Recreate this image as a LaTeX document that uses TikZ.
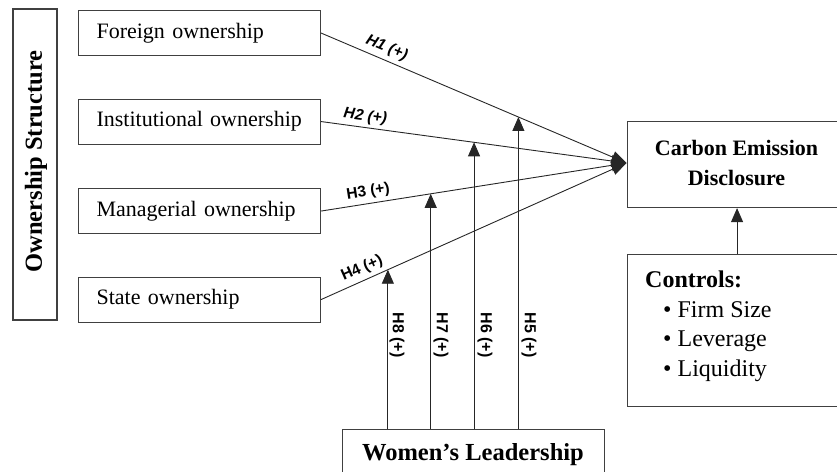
\documentclass[tikz,border=0pt]{standalone}
\usepackage{fontspec}
\setmainfont{Liberation Serif}
\newfontfamily\arialf{Liberation Sans}
\usetikzlibrary{arrows.meta,calc}
\tikzset{
  ownbox/.style={draw=black!75, line width=1.1pt, minimum height=45pt, text width=206pt, inner xsep=18pt, inner ysep=0pt, align=left, anchor=north west, font=\fontsize{22}{26}\selectfont},
  bigbox/.style={draw=black!75, line width=1.1pt, inner sep=0pt, anchor=north west},
  conn/.style={draw=black!85, line width=0.9pt, -{Triangle[length=15pt,width=12pt]}},
  varrow/.style={draw=black!85, line width=0.9pt, -{Triangle[length=14pt,width=12pt]}},
  hlab/.style={font=\arialf\bfseries\fontsize{15.5}{17}\selectfont, inner sep=1pt},
  hlabi/.style={font=\arialf\bfseries\itshape\fontsize{15.5}{17}\selectfont, inner sep=1pt},
  vlab/.style={font=\arialf\bfseries\fontsize{16}{18}\selectfont, inner sep=1pt, rotate=-90},
  ctxt/.style={font=\bfseries\fontsize{22}{29}\selectfont, inner sep=0pt},
  btxt/.style={font=\bfseries\fontsize{24}{29}\selectfont, inner sep=0pt},
  ntxt/.style={font=\fontsize{24}{29}\selectfont, inner sep=0pt}
}
\begin{document}
\begin{tikzpicture}[x=1pt,y=-1pt]
\useasboundingbox (0,0) rectangle (837,471);
\clip (0,0) rectangle (837,471);
% left vertical box
\node[draw=black!75, line width=1.1pt, rotate=90, minimum width=311pt, minimum height=44pt, inner sep=0pt] (os) at (35,164.5) {};
\node[rotate=90, inner sep=0pt, font=\bfseries\fontsize{24.5}{28}\selectfont] (ost) at (36,161.5) {Ownership Structure};
% ownership boxes
\node[ownbox] (fo) at (78,10) {Foreign ownership};
\node[ownbox] (io) at (78,98.5) {Institutional ownership};
\node[ownbox] (mo) at (78,188) {Managerial ownership};
\node[ownbox] (so) at (78,276.5) {State ownership};
% carbon box
\node[bigbox, minimum width=219pt, minimum height=86pt] (ced) at (627,121) {};
\node[ctxt, anchor=base] (ced1) at (736.5,155) {Carbon Emission};
\node[ctxt, anchor=base] (ced2) at (736.5,185) {Disclosure};
% controls box
\node[bigbox, minimum width=219pt, minimum height=152pt] (ctl) at (627,254) {};
\node[btxt, anchor=base west] (ctlh) at (645,287) {Controls:};
\node[ntxt, anchor=base west] (c1) at (663,317) {\textbullet\ Firm Size};
\node[ntxt, anchor=base west] (c2) at (663,346.5) {\textbullet\ Leverage};
\node[ntxt, anchor=base west] (c3) at (663,376) {\textbullet\ Liquidity};
% women's leadership box
\node[bigbox, minimum width=262pt, minimum height=60pt] (wl) at (342,429) {};
\node[font=\bfseries\fontsize{24.5}{28}\selectfont, inner sep=0pt, anchor=base] (wlt) at (473,460) {Women’s Leadership};
% convergence point
\coordinate (conv) at (626.5,163);
\draw[conn] (fo.east) -- node[hlabi, sloped, above=3pt, pos=0.2] (h1) {H1 (+)} (conv);
\draw[conn] (io.east) -- node[hlabi, sloped, above=2pt, pos=0.14] (h2) {H2 (+)} (conv);
\draw[conn] (mo.east) -- node[hlab, sloped, above=3pt, pos=0.16] (h3) {H3 (+)} (conv);
\draw[conn] (so.east) -- node[hlab, sloped, above=3pt, pos=0.15] (h4) {H4 (+)} (conv);
% moderation arrows
\coordinate (t5) at ($(fo.east)!{(518-320)/(626.5-320)}!(conv)$);
\coordinate (t6) at ($(io.east)!{(473.5-320)/(626.5-320)}!(conv)$);
\coordinate (t7) at ($(mo.east)!{(430-320)/(626.5-320)}!(conv)$);
\coordinate (t8) at ($(so.east)!{(387-320)/(626.5-320)}!(conv)$);
\draw[varrow] (t5 |- wl.north) -- (t5);
\draw[varrow] (t6 |- wl.north) -- (t6);
\draw[varrow] (t7 |- wl.north) -- (t7);
\draw[varrow] (t8 |- wl.north) -- (t8);
\node[vlab] (h8) at (397,335) {H8 (+)};
\node[vlab] (h7) at (441,335) {H7 (+)};
\node[vlab] (h6) at (485,335) {H6 (+)};
\node[vlab] (h5) at (529,335) {H5 (+)};
% controls arrow
\draw[varrow] (ctl.north -| ced.south) -- (ced.south);
\end{tikzpicture}
\end{document}
